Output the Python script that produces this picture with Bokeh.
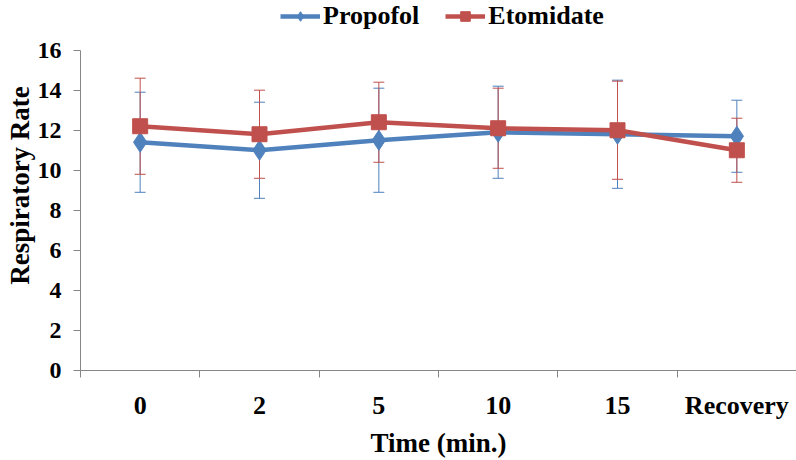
from bokeh.plotting import figure
from bokeh.models import (ColumnDataSource, Whisker, TeeHead, Legend, LegendItem,
                          FixedTicker, Range1d)
from bokeh.embed import file_html
from bokeh.resources import INLINE

categories = ["0", "2", "5", "10", "15", "Recovery"]
propofol_mean = [11.4, 11.0, 11.5, 11.9, 11.8, 11.7]
propofol_sd = [2.5, 2.4, 2.6, 2.3, 2.7, 1.8]
etomidate_mean = [12.2, 11.8, 12.4, 12.1, 12.0, 11.0]
etomidate_sd = [2.4, 2.2, 2.0, 2.0, 2.45, 1.6]
y_ticks = [0, 2, 4, 6, 8, 10, 12, 14, 16]

BLUE = "#4F81BD"
RED = "#C0504D"
FONT = "Liberation Serif"

xpos = [i + 0.5 for i in range(len(categories))]

def make_source(mean, sd):
    return ColumnDataSource(dict(
        x=xpos, y=mean,
        upper=[m + s for m, s in zip(mean, sd)],
        lower=[m - s for m, s in zip(mean, sd)],
    ))

src_p = make_source(propofol_mean, propofol_sd)
src_e = make_source(etomidate_mean, etomidate_sd)

# extra headroom above 16 holds the legend inside the frame
p = figure(width=796, height=460, output_backend="svg", toolbar_location=None,
           x_range=Range1d(0, len(categories)), y_range=Range1d(0, 18.48),
           min_border_left=80, min_border_right=0, min_border_top=0,
           min_border_bottom=88)
p.outline_line_color = None
p.xgrid.visible = False
p.ygrid.visible = False

# error bars
for src, col in ((src_p, BLUE), (src_e, RED)):
    w = Whisker(base="x", upper="upper", lower="lower", source=src,
                dimension="height", line_color=col, line_width=1,
                upper_head=TeeHead(size=11, line_color=col, line_width=1),
                lower_head=TeeHead(size=11, line_color=col, line_width=1))
    p.add_layout(w)

lp = p.line("x", "y", source=src_p, line_color=BLUE, line_width=4.5)
mp = p.scatter("x", "y", source=src_p, marker="diamond", size=20,
               fill_color=BLUE, line_color=BLUE)
le = p.line("x", "y", source=src_e, line_color=RED, line_width=4.5)
me = p.scatter("x", "y", source=src_e, marker="square", size=15,
               fill_color=RED, line_color=RED)

# axes
xa = p.xaxis[0]
xa.ticker = FixedTicker(ticks=xpos, minor_ticks=list(range(len(categories) + 1)))
xa.major_label_overrides = {x: c for x, c in zip(xpos, categories)}
xa.major_tick_out = 0
xa.major_tick_in = 0
xa.minor_tick_out = 7
xa.minor_tick_in = 0
xa.minor_tick_line_color = "#868686"
xa.axis_line_color = "#868686"
xa.major_label_text_font = FONT
xa.major_label_text_font_style = "bold"
xa.major_label_text_font_size = "26px"
xa.major_label_text_color = "black"
xa.major_label_standoff = 13
xa.axis_label = "Time (min.)"
xa.axis_label_text_font = FONT
xa.axis_label_text_font_style = "bold"
xa.axis_label_text_font_size = "27px"
xa.axis_label_text_color = "black"
xa.axis_label_standoff = 5

ya = p.yaxis[0]
ya.ticker = FixedTicker(ticks=y_ticks, minor_ticks=[])
ya.bounds = (0, 16)
ya.major_tick_out = 7
ya.major_tick_in = 0
ya.major_tick_line_color = "#868686"
ya.axis_line_color = "#868686"
ya.major_label_text_font = FONT
ya.major_label_text_font_style = "bold"
ya.major_label_text_font_size = "24px"
ya.major_label_text_color = "black"
ya.major_label_standoff = 12
ya.axis_label = "Respiratory Rate"
ya.axis_label_text_font = FONT
ya.axis_label_text_font_style = "bold"
ya.axis_label_text_font_size = "27px"
ya.axis_label_text_color = "black"
ya.axis_label_standoff = 0

legend = Legend(items=[LegendItem(label="Propofol", renderers=[lp, mp]),
                       LegendItem(label="Etomidate", renderers=[le, me])],
                orientation="horizontal", location=(200, 339),
                glyph_width=40, glyph_height=24, label_standoff=3, spacing=26,
                padding=0, margin=0, border_line_alpha=0, background_fill_alpha=0,
                label_text_font=FONT, label_text_font_style="bold",
                label_text_font_size="26px", label_text_color="black")
p.add_layout(legend, "center")

open("out.html", "w").write(file_html(p, INLINE))
